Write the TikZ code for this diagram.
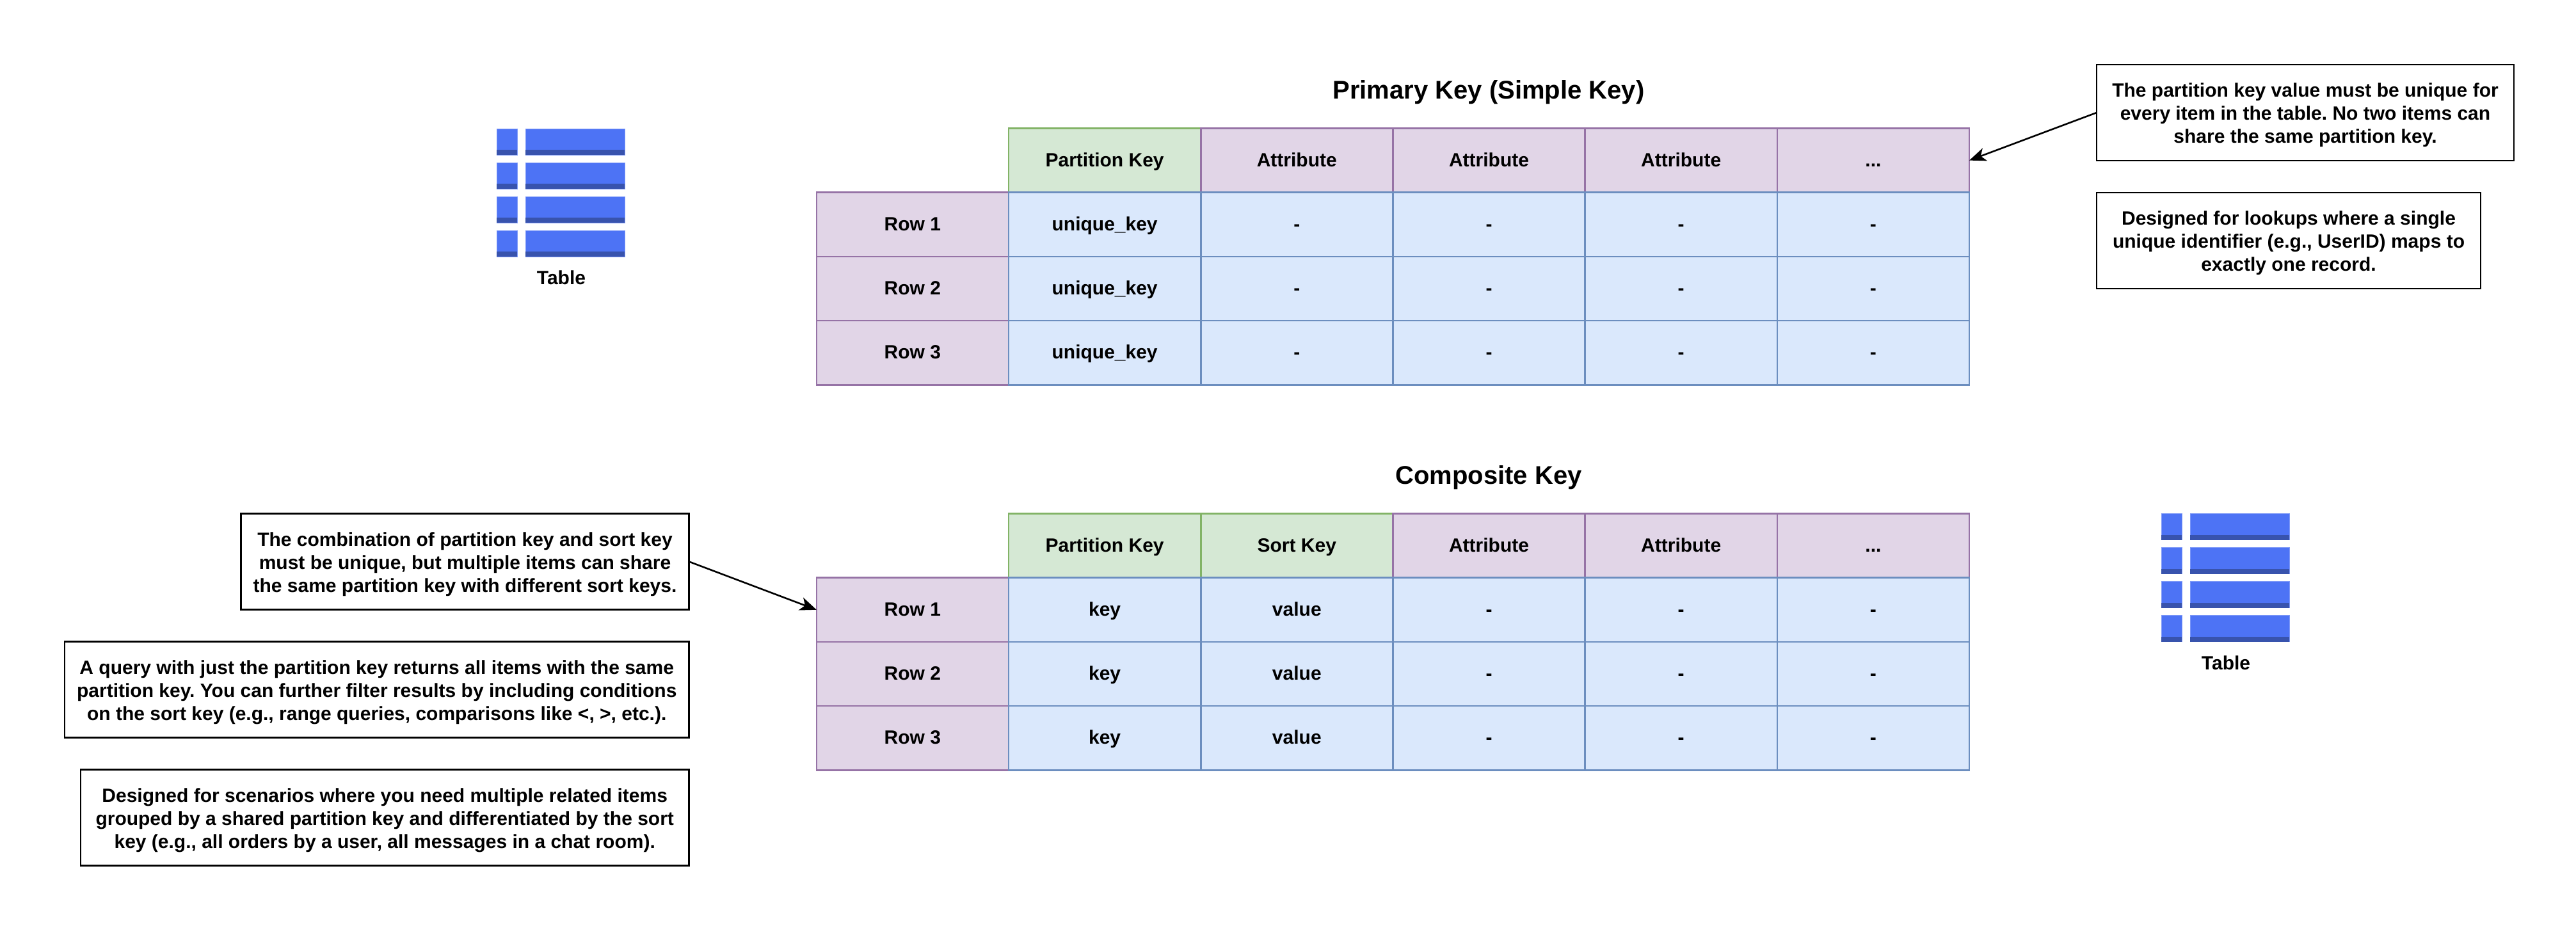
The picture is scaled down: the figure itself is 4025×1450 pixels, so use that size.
\documentclass[tikz,border=0pt]{standalone}
\usepackage{fontspec}
\setmainfont{Liberation Sans}
\usetikzlibrary{arrows.meta}
\definecolor{gfill}{HTML}{D5E8D4}\definecolor{gline}{HTML}{82B366}
\definecolor{pfill}{HTML}{E1D5E7}\definecolor{pline}{HTML}{9673A6}
\definecolor{bfill}{HTML}{DAE8FC}\definecolor{bline}{HTML}{6C8EBF}
\definecolor{iconblue}{HTML}{4D73F5}\definecolor{icondark}{HTML}{3853AD}
\definecolor{iconedge}{HTML}{7E99F7}
\newcommand{\topnudge}{\rule{0pt}{30pt}}
\tikzset{
  cellbase/.style={rectangle,anchor=north west,minimum width=300.2pt,minimum height=100.2pt,inner sep=0pt,outer sep=0pt,line width=2.6pt,text height=26pt,text depth=7pt,font=\fontsize{30}{36}\selectfont\bfseries},
  gcell/.style={cellbase,draw=gline,fill=gfill},
  pcell/.style={cellbase,draw=pline,fill=pfill},
  bcell/.style={cellbase,draw=bline,fill=bfill},
  note/.style={rectangle,anchor=north west,draw=black,fill=white,line width=2.6pt,inner sep=0pt,outer sep=0pt,align=center,font=\fontsize{30}{36}\selectfont\bfseries\frenchspacing},
  ttl/.style={inner sep=0pt,text height=30pt,text depth=9pt,font=\fontsize{40}{48}\selectfont\bfseries},
  icolabel/.style={inner sep=0pt,text height=26pt,text depth=7pt,font=\fontsize{30}{36}\selectfont\bfseries},
  arr/.style={line width=2.6pt,-{Stealth[length=26pt,width=21pt,inset=7pt]},shorten >=0pt},
  pics/tableicon/.style={code={
    \foreach \yy in {0,53,106,159}{
      \fill[iconblue,draw=iconedge,line width=.8pt] (0,\yy) rectangle (32,\yy+41);
      \fill[iconblue,draw=iconedge,line width=.8pt] (45,\yy) rectangle (200,\yy+41);
      \fill[icondark] (0,\yy+33) rectangle (32,\yy+41);
      \fill[icondark] (45,\yy+33) rectangle (200,\yy+41);
    }
  }}
}
\begin{document}
\begin{tikzpicture}[x=1pt,y=-1pt]
\useasboundingbox (0,0) rectangle (4025,1450);
% ---- upper table
\node[ttl] (t1) at (2326,144) {Primary Key (Simple Key)};
\node[gcell] (ah) at (1576,200.5) {Partition Key};
\node[pcell] (ah2) at (1876.2,200.5) {Attribute};
\node[pcell] (ah3) at (2176.4,200.5) {Attribute};
\node[pcell] (ah4) at (2476.6,200.5) {Attribute};
\node[pcell] (ah5) at (2776.8,200.5) {...};
\foreach \n/\lab/\y in {1/Row 1/300.7,2/Row 2/400.9,3/Row 3/501.1}{
  \node[pcell] (ar\n) at (1275.8,\y) {\lab};
  \node[bcell] (ar\n a) at (1576,\y) {unique\_key};
  \node[bcell] (ar\n b) at (1876.2,\y) {-};
  \node[bcell] (ar\n c) at (2176.4,\y) {-};
  \node[bcell] (ar\n d) at (2476.6,\y) {-};
  \node[bcell] (ar\n e) at (2776.8,\y) {-};
}
% ---- lower table
\node[ttl] (t2) at (2326,745.5) {Composite Key};
\node[gcell] (bh) at (1576,802.5) {Partition Key};
\node[gcell] (bh2) at (1876.2,802.5) {Sort Key};
\node[pcell] (bh3) at (2176.4,802.5) {Attribute};
\node[pcell] (bh4) at (2476.6,802.5) {Attribute};
\node[pcell] (bh5) at (2776.8,802.5) {...};
\foreach \n/\lab/\y in {1/Row 1/902.7,2/Row 2/1002.9,3/Row 3/1103.1}{
  \node[pcell] (br\n) at (1275.8,\y) {\lab};
  \node[bcell] (br\n a) at (1576,\y) {key};
  \node[bcell] (br\n b) at (1876.2,\y) {value};
  \node[bcell] (br\n c) at (2176.4,\y) {-};
  \node[bcell] (br\n d) at (2476.6,\y) {-};
  \node[bcell] (br\n e) at (2776.8,\y) {-};
}
% ---- notes
\node[note,minimum width=652pt,minimum height=150pt] (n1) at (3276,101) {\topnudge The partition key value must be unique for\\every item in the table. No two items can\\share the same partition key.};
\node[note,minimum width=600pt,minimum height=150pt] (n2) at (3276,301) {\topnudge Designed for lookups where a single\\unique identifier (e.g., UserID) maps to\\exactly one record.};
\node[note,minimum width=700pt,minimum height=150pt] (n3) at (376.5,802.5) {\topnudge The combination of partition key and sort key\\must be unique, but multiple items can share\\the same partition key with different sort keys.};
\node[note,minimum width=975.5pt,minimum height=150pt] (n4) at (101,1002.5) {\topnudge A query with just the partition key returns all items with the same\\partition key. You can further filter results by including conditions\\on the sort key (e.g., range queries, comparisons like <, >, etc.).};
\node[note,minimum width=950.5pt,minimum height=150pt] (n5) at (126,1202.5) {\topnudge Designed for scenarios where you need multiple related items\\grouped by a shared partition key and differentiated by the sort\\key (e.g., all orders by a user, all messages in a chat room).};
% ---- connectors
\draw[arr] (n1.west) -- (ah5.east);
\draw[arr] (n3.east) -- (br1.west);
% ---- icons
\pic at (776,201) {tableicon};
\node[icolabel] (l1) at (877,435) {Table};
\pic at (3377,802.5) {tableicon};
\node[icolabel] (l2) at (3478,1036.5) {Table};
\end{tikzpicture}
\end{document}
